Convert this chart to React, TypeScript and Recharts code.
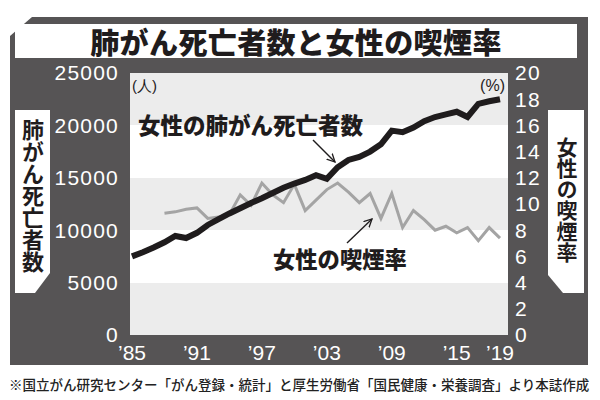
import { LineChart, Line, XAxis, YAxis, CartesianGrid } from 'recharts';

// 女性の肺がん死亡者数（人）と女性の喫煙率（%）
const years = [
  1985, 1986, 1987, 1988, 1989, 1990, 1991, 1992, 1993, 1994, 1995, 1996,
  1997, 1998, 1999, 2000, 2001, 2002, 2003, 2004, 2005, 2006, 2007, 2008,
  2009, 2010, 2011, 2012, 2013, 2014, 2015, 2016, 2017, 2018, 2019,
];
const deaths = [
  7500, 7900, 8350, 8850, 9450, 9250, 9750, 10500, 11050, 11600, 12100, 12600,
  13050, 13550, 14050, 14450, 14800, 15250, 14900, 16000, 16700, 17000, 17500,
  18200, 19500, 19350, 19800, 20400, 20800, 21050, 21300, 20800, 22050, 22300,
  22500,
];
const smoking = [
  null, null, null, 9.3, 9.4, 9.6, 9.7, 8.9, 9.0, 9.2, 10.7, 9.9, 11.6, 10.7,
  10.1, 11.5, 9.5, 10.3, 11.1, 11.6, 10.9, 10.1, 10.8, 8.9, 10.8, 8.2, 9.5, 8.8,
  8.0, 8.3, 7.8, 8.2, 7.2, 8.2, 7.4,
];

const xTicks = [1985, 1991, 1997, 2003, 2009, 2015, 2019];
const leftTicks = [0, 5000, 10000, 15000, 20000, 25000];
const rightTicks = [0, 2, 4, 6, 8, 10, 12, 14, 16, 18, 20];

const data = years.map((year, i) => ({
  year,
  deaths: deaths[i],
  smoking: smoking[i],
}));

const PANEL = '#565455';
const INK = '#1f1c1d';
const JP = '"Noto Sans CJK JP", "Noto Sans", sans-serif';
const NUM = '"Liberation Sans", Arial, sans-serif';

const tickStyle = { fill: '#fff', fontSize: 21, fontFamily: NUM, letterSpacing: 1.2 };

export default function App() {
  return (
    <div style={{ position: 'absolute', left: 0, top: 0, width: 600, height: 400, background: '#fff' }}>
      {/* 背景パネル（左上の角を斜めにカット） */}
      <div
        style={{
          position: 'absolute', left: 0, top: 0, width: 600, height: 400,
          background: PANEL,
          clipPath: 'polygon(32px 17px, 588px 17px, 588px 365px, 10px 365px, 10px 36px)',
        }}
      />
      {/* タイトル */}
      <div
        style={{
          position: 'absolute', left: 15, top: 24, width: 562, height: 34,
          background: '#fff', color: INK, fontFamily: JP, fontWeight: 900,
          fontSize: 29, lineHeight: '34px', textAlign: 'center', letterSpacing: 0.4,
        }}
      >
        肺がん死亡者数と女性の喫煙率
      </div>

      <div style={{ position: 'absolute', left: 0, top: 0 }}>
        <LineChart width={600} height={400} data={data} margin={{ top: 73, right: 32, bottom: 35, left: 60 }}>
          <CartesianGrid
            xAxisId="yr"
            yAxisId="left"
            vertical={false}
            stroke="transparent"
            fill="#fff"
            fillOpacity={1}
            horizontalFill={['#ececec', '#ffffff']}
          />
          <XAxis
            xAxisId="yr"
            dataKey="year"
            type="number"
            domain={[1985, 2019]}
            ticks={xTicks}
            interval={0}
            padding={{ left: 2, right: 8 }}
            axisLine={false}
            tickLine={false}
            tickSize={0}
            tickMargin={10}
            height={30}
            tick={{ fill: '#fff', fontSize: 21, fontFamily: NUM }}
            tickFormatter={(v: number) => '\u2019' + String(v).slice(2)}
          />
          <YAxis
            yAxisId="left"
            orientation="left"
            domain={[0, 25000]}
            ticks={leftTicks}
            interval={0}
            width={70}
            axisLine={false}
            tickLine={false}
            tickSize={0}
            tickMargin={11}
            tick={tickStyle}
          />
          <YAxis
            yAxisId="right"
            orientation="right"
            domain={[0, 20]}
            ticks={rightTicks}
            interval={0}
            width={60}
            axisLine={false}
            tickLine={false}
            tickSize={0}
            tickMargin={7}
            tick={{ ...tickStyle, textAnchor: 'start' }}
          />
          <Line
            xAxisId="yr"
            yAxisId="right"
            dataKey="smoking"
            type="linear"
            stroke="#a4a4a4"
            strokeWidth={3}
            dot={false}
            activeDot={false}
            isAnimationActive={false}
          />
          <Line
            xAxisId="yr"
            yAxisId="left"
            dataKey="deaths"
            type="linear"
            stroke={INK}
            strokeWidth={6}
            dot={false}
            activeDot={false}
            isAnimationActive={false}
          />
        </LineChart>
      </div>

      {/* 左の軸見出し */}
      <div
        style={{
          position: 'absolute', left: 15, top: 110, width: 35, height: 183,
          background: '#fff',
          clipPath: 'polygon(0 0, 35px 0, 35px 163px, 20px 183px, 0 183px)',
        }}
      >
        <div
          style={{
            position: 'absolute', left: 6, top: 9, writingMode: 'vertical-rl',
            fontFamily: JP, fontWeight: 700, fontSize: 22, lineHeight: '23px', color: INK,
          }}
        >
          肺がん死亡者数
        </div>
      </div>

      {/* 右の軸見出し */}
      <div
        style={{
          position: 'absolute', left: 548, top: 110, width: 36, height: 183,
          background: '#fff',
          clipPath: 'polygon(0 0, 36px 0, 36px 183px, 15px 183px, 0 165px)',
        }}
      >
        <div
          style={{
            position: 'absolute', left: 8, top: 27, writingMode: 'vertical-rl',
            fontFamily: JP, fontWeight: 700, fontSize: 21, lineHeight: '22px', color: INK,
          }}
        >
          女性の喫煙率
        </div>
      </div>

      {/* 注記・矢印 */}
      <svg width={600} height={400} style={{ position: 'absolute', left: 0, top: 0, pointerEvents: 'none' }}>
        <defs>
          <marker id="ah" markerWidth={9} markerHeight={9} refX={8} refY={4.5} orient="auto" markerUnits="userSpaceOnUse">
            <path d="M0,0.5 L8,4.5 L0,8.5" fill="none" stroke={INK} strokeWidth={1.3} />
          </marker>
        </defs>
        <text x={132} y={91} fontFamily={NUM} fontSize={15} fill={INK}>(人)</text>
        <text x={505} y={91} fontFamily={NUM} fontSize={16} fill={INK} textAnchor="end">(%)</text>
        <text x={138} y={134} fontFamily={JP} fontWeight={900} fontSize={22.5} fill={INK}>
          女性の肺がん死亡者数
        </text>
        <text x={273} y={268} fontFamily={JP} fontWeight={900} fontSize={22.3} fill={INK}>
          女性の喫煙率
        </text>
        <line x1={313} y1={140} x2={335} y2={162} stroke={INK} strokeWidth={1.4} markerEnd="url(#ah)" />
        <line x1={347} y1={243} x2={372} y2={219} stroke={INK} strokeWidth={1.4} markerEnd="url(#ah)" />
      </svg>

      {/* 出典 */}
      <div
        style={{
          position: 'absolute', left: 9, top: 375, whiteSpace: 'nowrap',
          fontFamily: JP, fontWeight: 500, fontSize: 13.5, lineHeight: '18px', color: '#222',
        }}
      >
        ※国立がん研究センター「がん登録・統計」と厚生労働省「国民健康・栄養調査」より本誌作成
      </div>
    </div>
  );
}
